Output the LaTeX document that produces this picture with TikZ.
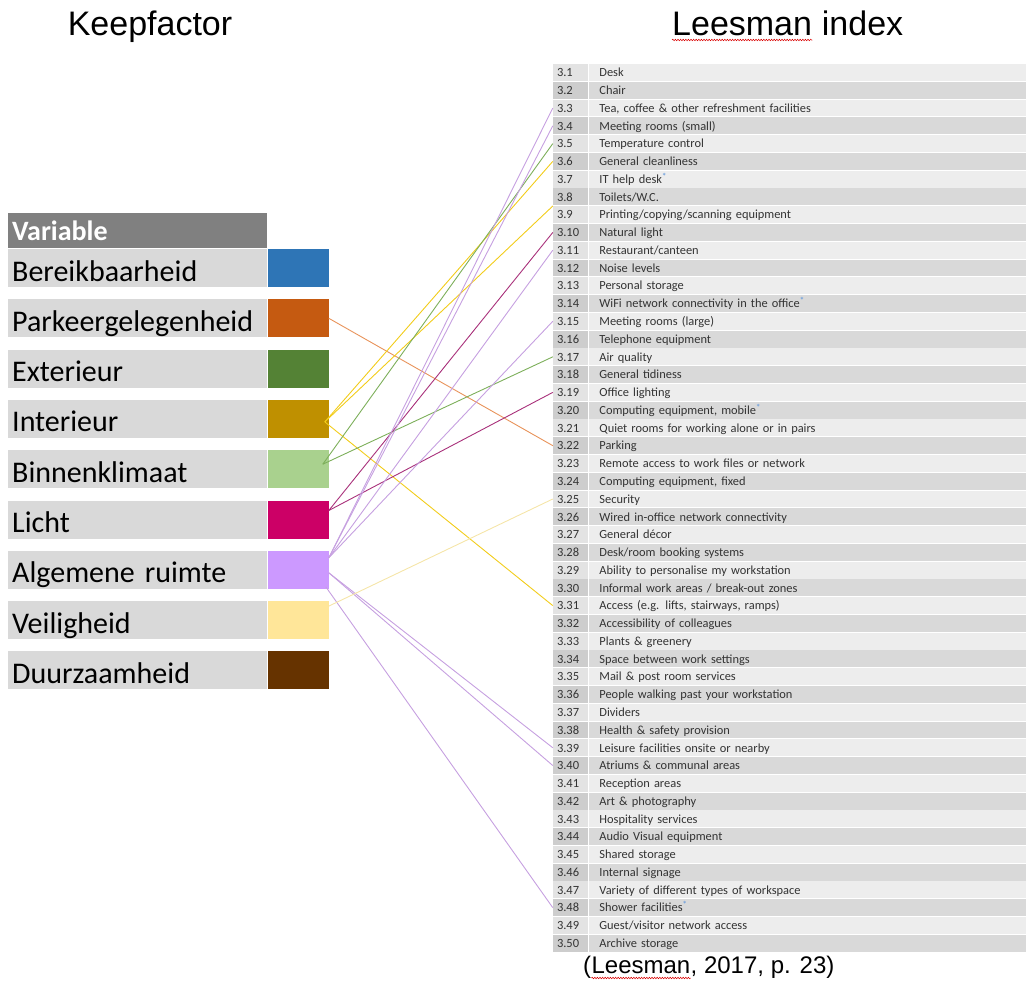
\documentclass[tikz,border=0pt]{standalone}
\usepackage{fontspec}
\setmainfont{Carlito}
\newfontfamily\titlefont{Liberation Sans}
\usetikzlibrary{positioning,decorations.pathmorphing}
\definecolor{bandlight}{HTML}{EDEDED}
\definecolor{banddark}{HTML}{D9D9D9}
\definecolor{numlight}{HTML}{E3E3E3}
\definecolor{numdark}{HTML}{CDCDCD}
\definecolor{labelgrey}{HTML}{D9D9D9}
\definecolor{headgrey}{HTML}{808080}
\definecolor{tabletext}{HTML}{333333}
\definecolor{starblue}{HTML}{6FA0DC}
\definecolor{bereik}{HTML}{2E75B6}
\definecolor{parkeer}{HTML}{C55A11}
\definecolor{exterieur}{HTML}{548235}
\definecolor{interieur}{HTML}{BF9000}
\definecolor{klimaat}{HTML}{A9D18E}
\definecolor{licht}{HTML}{CC0066}
\definecolor{ruimte}{HTML}{CC99FF}
\definecolor{veilig}{HTML}{FFE699}
\definecolor{duurzaam}{HTML}{663300}
\definecolor{parkline}{HTML}{E8935A}
\definecolor{interline}{HTML}{F2CC1A}
\definecolor{klimline}{HTML}{7DAF5A}
\definecolor{lichtline}{HTML}{A8307A}
\definecolor{ruimteline}{HTML}{C6A0E0}
\definecolor{veilline}{HTML}{F5E5A8}
\newcommand{\lmstar}{\textsuperscript{\color{starblue}\bfseries*}}

\begin{document}
\begin{tikzpicture}[x=1pt, y=-1pt,
  varlabel/.style={fill=labelgrey, text width=251pt, minimum height=38pt, inner xsep=4pt, inner ysep=0pt,
    text height=26pt, text depth=0pt, align=left, font=\fontsize{30}{30}\selectfont},
  varbox/.style={minimum width=61pt, minimum height=38pt, inner sep=0pt},
  headbar/.style={fill=headgrey, text=white, text width=251pt, minimum height=35pt, inner xsep=4pt, inner ysep=0pt,
    text height=20pt, text depth=0pt, align=left, font=\fontsize{28}{28}\selectfont\bfseries},
  numcell/.style={text width=27pt, minimum height=16.9pt, inner xsep=4pt, inner ysep=0pt,
    text height=8.5pt, text depth=0pt, align=left, text=tabletext, font=\fontsize{12.5}{12.5}\selectfont},
  txtcell/.style={numcell, text width=417pt, inner xsep=10pt, font=\fontsize{12.4}{12.4}\selectfont},
  bigtitle/.style={inner sep=0pt, font=\titlefont\fontsize{34}{34}\selectfont},
  cite/.style={inner sep=0pt, font=\titlefont\fontsize{24}{24}\selectfont},
  spell/.style={red!85!black, line width=0.5pt, decorate, decoration={snake, amplitude=0.8pt, segment length=2.6pt}},
  link/.style={line width=0.9pt}]
  \useasboundingbox (0,0) rectangle (1026,983);

  % titles
  \node[bigtitle, anchor=base] (keep) at (150,35) {Keepfactor};
  \node[bigtitle, anchor=base west] (lees) at (672,35) {Leesman};
  \node[bigtitle, anchor=base west] (index) at (lees.base east) {\ index};
  \draw[spell] ([yshift=-5pt]lees.base west) -- ([yshift=-5pt]lees.base east);

  % keepfactor table
  \node[headbar, anchor=north west] (head) at (8,213) {Variable};
  \foreach \i/\name/\col in {1/Bereikbaarheid/bereik, 2/Parkeergelegenheid/parkeer, 3/Exterieur/exterieur,
      4/Interieur/interieur, 5/Binnenklimaat/klimaat, 6/Licht/licht, 7/Algemene ruimte/ruimte,
      8/Veiligheid/veilig, 9/Duurzaamheid/duurzaam} {
    \node[varlabel, anchor=west] (lab\i) at (8,{268+(\i-1)*50.3}) {\name};
    \node[varbox, fill=\col, right=0pt of lab\i] (box\i) {};
  }

  % leesman index
  \foreach \n/\lbl in {1/Desk, 2/Chair, 3/{Tea, coffee \& other refreshment facilities}, 4/Meeting rooms (small),
      5/Temperature control, 6/General cleanliness, 7/{IT help desk\lmstar}, 8/{Toilets/W.C.},
      9/{Printing/copying/scanning equipment}, 10/Natural light, 11/{Restaurant/canteen}, 12/Noise levels,
      13/Personal storage, 14/{WiFi network connectivity in the office\lmstar}, 15/Meeting rooms (large),
      16/Telephone equipment, 17/Air quality, 18/General tidiness, 19/Office lighting,
      20/{Computing equipment, mobile\lmstar}, 21/Quiet rooms for working alone or in pairs, 22/Parking,
      23/Remote access to work files or network, 24/{Computing equipment, fixed}, 25/Security,
      26/Wired in-office network connectivity, 27/General décor, 28/{Desk/room booking systems},
      29/Ability to personalise my workstation, 30/{Informal work areas / break-out zones},
      31/{Access (e.g. lifts, stairways, ramps)}, 32/Accessibility of colleagues, 33/Plants \& greenery,
      34/Space between work settings, 35/Mail \& post room services, 36/People walking past your workstation,
      37/Dividers, 38/Health \& safety provision, 39/Leisure facilities onsite or nearby,
      40/Atriums \& communal areas, 41/Reception areas, 42/Art \& photography, 43/Hospitality services,
      44/Audio Visual equipment, 45/Shared storage, 46/Internal signage,
      47/Variety of different types of workspace, 48/{Shower facilities\lmstar},
      49/{Guest/visitor network access}, 50/Archive storage} {
    \ifodd\n \def\bandcol{bandlight}\def\numcol{numlight}\else \def\bandcol{banddark}\def\numcol{numdark}\fi
    \node[numcell, fill=\numcol] (num\n) at (570.5,{72.5+(\n-1)*17.77}) {3.\n};
    \node[txtcell, fill=\bandcol, right=1pt of num\n] (txt\n) {\lbl};
  }

  % source
  \node[cite, anchor=base west] (open) at (583,973) {(};
  \node[cite, anchor=base west] (citeauth) at (open.base east) {Leesman};
  \node[cite, anchor=base west] (citerest) at (citeauth.base east) {, 2017, p. 23)};
  \draw[spell] ([yshift=-5pt]citeauth.base west) -- ([yshift=-5pt]citeauth.base east);

  % links
  \draw[link, parkline] (box2.east) -- (num22.west);
  \foreach \t in {num6.west, num9.north west, num31.west}
    \draw[link, interline] ([xshift=-4pt,yshift=-3pt]box4.east) -- (\t);
  \foreach \t in {num5.west, num17.west}
    \draw[link, klimline] ([xshift=-6pt,yshift=5pt]box5.east) -- (\t);
  \foreach \t in {num10.west, num19.west}
    \draw[link, lichtline] ([yshift=9pt]box6.east) -- (\t);
  \foreach \t in {num3.west, num4.west, num11.west, num15.west}
    \draw[link, ruimteline] ([yshift=12pt]box7.east) -- (\t);
  \foreach \t in {num39.west, num40.west}
    \draw[link, ruimteline] ([yshift=-3pt]box7.east) -- (\t);
  \draw[link, ruimteline] ([xshift=-3pt,yshift=-17pt]box7.east) -- (num48.west);
  \draw[link, veilline] ([yshift=14pt]box8.east) -- (num25.west);
\end{tikzpicture}
\end{document}
